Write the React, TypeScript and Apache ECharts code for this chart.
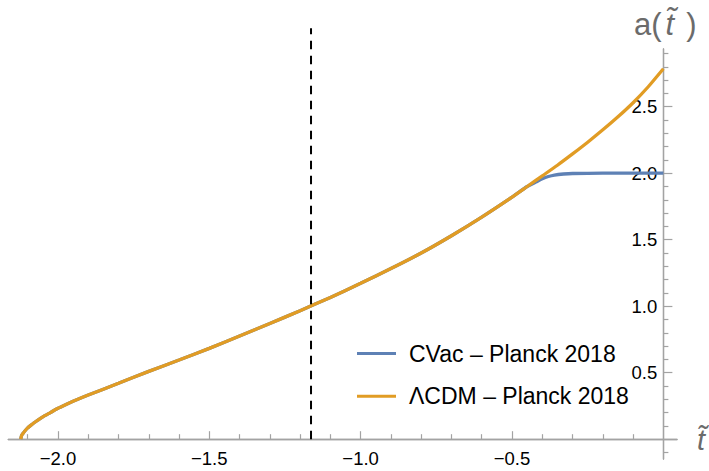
import React, { useEffect, useRef } from "react";
import * as echarts from "echarts";

// ---- axis ranges & ticks ----
const X_MIN = -2.164;
const X_MAX = 0.045;
const Y_MIN = -0.149;
const Y_MAX = 2.934;
const xMajorTicks = [-2.0, -1.5, -1.0, -0.5];
const xMinorTicks = [-2.1, -1.9, -1.8, -1.7, -1.6, -1.4, -1.3, -1.2, -1.1, -0.9, -0.8, -0.7, -0.6, -0.4, -0.3, -0.2, -0.1];
const yMajorTicks = [0.5, 1.0, 1.5, 2.0, 2.5];
const yMinorTicks = [-0.1, 0.1, 0.2, 0.3, 0.4, 0.6, 0.7, 0.8, 0.9, 1.1, 1.2, 1.3, 1.4, 1.6, 1.7, 1.8, 1.9, 2.1, 2.2, 2.3, 2.4, 2.6, 2.7, 2.8, 2.9];

// ---- series ----
const seriesNames = ["CVac \u2013 Planck 2018", "\u039BCDM \u2013 Planck 2018"];

const lcdmT = [-2.123, -2.12, -2.115, -2.11, -2.1, -2.09, -2.08, -2.065, -2.05, -2.025, -2.0, -1.975, -1.95, -1.9, -1.8, -1.7, -1.6, -1.5, -1.4, -1.3, -1.2, -1.1, -1.0, -0.9, -0.8, -0.7, -0.6, -0.5, -0.45, -0.4, -0.35, -0.3, -0.25, -0.2, -0.15, -0.1, -0.05, 0];
const lcdmA = [0, 0.028, 0.045, 0.06, 0.085, 0.104, 0.122, 0.146, 0.168, 0.2, 0.232, 0.259, 0.285, 0.332, 0.42, 0.51, 0.595, 0.683, 0.776, 0.87, 0.966, 1.066, 1.172, 1.283, 1.4, 1.53, 1.67, 1.82, 1.9, 1.98, 2.06, 2.145, 2.233, 2.326, 2.424, 2.53, 2.65, 2.785];

const cvacT = [-2.123, -2.12, -2.115, -2.11, -2.1, -2.09, -2.08, -2.065, -2.05, -2.025, -2.0, -1.975, -1.95, -1.9, -1.8, -1.7, -1.6, -1.5, -1.4, -1.3, -1.2, -1.1, -1.0, -0.9, -0.8, -0.7, -0.6, -0.5, -0.45, -0.42, -0.4, -0.38, -0.36, -0.33, -0.3, -0.2, -0.1, 0];
const cvacA = [0, 0.028, 0.045, 0.06, 0.085, 0.104, 0.122, 0.146, 0.168, 0.2, 0.232, 0.259, 0.285, 0.332, 0.42, 0.51, 0.595, 0.683, 0.776, 0.87, 0.966, 1.066, 1.172, 1.283, 1.4, 1.53, 1.67, 1.82, 1.9, 1.935, 1.958, 1.975, 1.986, 1.994, 1.998, 2.0, 2.0, 2.0];

// present day marker (dashed vertical)
const todayT = -1.164;
const todayLineA = [0, 3.09];

const BLUE = "#5E81B5";
const ORANGE = "#E19C24";
const AXIS_GRAY = "#a3a3a3";
const LABEL_GRAY = "#6b6b6b";
const FONT = "'Liberation Sans', Arial, sans-serif";

const fmt = (v: number) => (v < 0 ? "\u2212" : "") + Math.abs(v).toFixed(1);

export default function App() {
  const ref = useRef<HTMLDivElement>(null);
  useEffect(() => {
    if (!ref.current) return;
    const chart = echarts.init(ref.current, undefined, { renderer: "svg" });
    const axisLine = { onZero: true, lineStyle: { color: AXIS_GRAY, width: 1.3 } };
    const tickStyle = { color: AXIS_GRAY, width: 1.2 };
    const labelStyle = { color: "#000", fontSize: 18.5, fontFamily: FONT };
    chart.setOption({
      animation: false,
      backgroundColor: "#ffffff",
      grid: [
        // full plot range: axis lines/ticks crossing at zero, series
        { left: 8.3, right: 32, top: 49, bottom: 12, containLabel: false, outerBoundsMode: "none" },
        // same scale, edges at x = 0 and y = 0: tick labels
        { left: 8.3, right: 45.7, top: 49, bottom: 31.8, containLabel: false, outerBoundsMode: "none" },
      ],
      xAxis: [
        {
          type: "value", gridIndex: 0, min: X_MIN, max: X_MAX, position: "bottom",
          axisLine,
          axisTick: { show: true, customValues: xMajorTicks, inside: true, length: 8, lineStyle: tickStyle },
          axisLabel: { show: false },
          splitLine: { show: false },
        },
        {
          type: "value", gridIndex: 0, min: X_MIN, max: X_MAX, position: "bottom",
          axisLine,
          axisTick: { show: true, customValues: xMinorTicks, inside: true, length: 5, lineStyle: tickStyle },
          axisLabel: { show: false },
          splitLine: { show: false },
        },
        {
          type: "value", gridIndex: 1, min: X_MIN, max: 0, position: "bottom",
          axisLine: { show: false, onZero: false },
          axisTick: { show: false },
          axisLabel: { customValues: xMajorTicks, formatter: fmt, margin: 10, ...labelStyle },
          splitLine: { show: false },
        },
      ],
      yAxis: [
        {
          type: "value", gridIndex: 0, min: Y_MIN, max: Y_MAX, position: "left",
          axisLine,
          axisTick: { show: true, customValues: yMajorTicks, inside: true, length: 9, lineStyle: tickStyle },
          axisLabel: { show: false },
          splitLine: { show: false },
        },
        {
          type: "value", gridIndex: 0, min: Y_MIN, max: Y_MAX, position: "left",
          axisLine,
          axisTick: { show: true, customValues: yMinorTicks, inside: true, length: 5, lineStyle: tickStyle },
          axisLabel: { show: false },
          splitLine: { show: false },
        },
        {
          type: "value", gridIndex: 1, min: 0, max: Y_MAX, position: "right",
          axisLine: { show: false, onZero: false },
          axisTick: { show: false },
          axisLabel: { customValues: yMajorTicks, formatter: fmt, inside: true, margin: 6, ...labelStyle },
          splitLine: { show: false },
        },
      ],
      legend: {
        data: seriesNames,
        orient: "vertical",
        left: 357,
        top: 342,
        padding: 0,
        itemWidth: 39,
        itemHeight: 3,
        itemGap: 19.7,
        icon: "rect",
        selectedMode: false,
        textStyle: { fontSize: 23, lineHeight: 23, color: "#000", fontFamily: FONT, padding: [0, 0, 0, 8] },
      },
      graphic: [
        {
          type: "text",
          x: 634,
          y: 24,
          style: {
            text: "{n|a(}{i|t\u0303}{n|)}",
            verticalAlign: "middle",
            rich: {
              n: { fontSize: 31, fontFamily: FONT, fill: LABEL_GRAY },
              i: { fontSize: 31, fontFamily: FONT, fontStyle: "italic", fill: LABEL_GRAY, padding: [0, 12, 0, 4] },
            },
          },
        },
        {
          type: "text",
          x: 697,
          y: 440,
          style: {
            text: "t\u0303",
            verticalAlign: "middle",
            fontSize: 29,
            fontFamily: FONT,
            fontStyle: "italic",
            fill: LABEL_GRAY,
          },
        },
      ],
      series: [
        {
          name: seriesNames[0], type: "line", xAxisIndex: 0, yAxisIndex: 0,
          data: cvacT.map((t, i) => [t, cvacA[i]]),
          showSymbol: false, smooth: 0.2,
          lineStyle: { color: BLUE, width: 3.3 }, itemStyle: { color: BLUE },
        },
        {
          name: seriesNames[1], type: "line", xAxisIndex: 0, yAxisIndex: 0,
          data: lcdmT.map((t, i) => [t, lcdmA[i]]),
          showSymbol: false, smooth: 0.2,
          lineStyle: { color: ORANGE, width: 3.3 }, itemStyle: { color: ORANGE },
        },
        {
          name: "today", type: "line", xAxisIndex: 0, yAxisIndex: 0,
          data: todayLineA.map((a) => [todayT, a]),
          showSymbol: false, clip: false, silent: true,
          lineStyle: { color: "#000", width: 2, type: [8.5, 6.5] },
        },
      ],
    });
    return () => chart.dispose();
  }, []);
  return <div ref={ref} style={{ position: "fixed", left: 0, top: 0, width: 709, height: 471 }} />;
}
